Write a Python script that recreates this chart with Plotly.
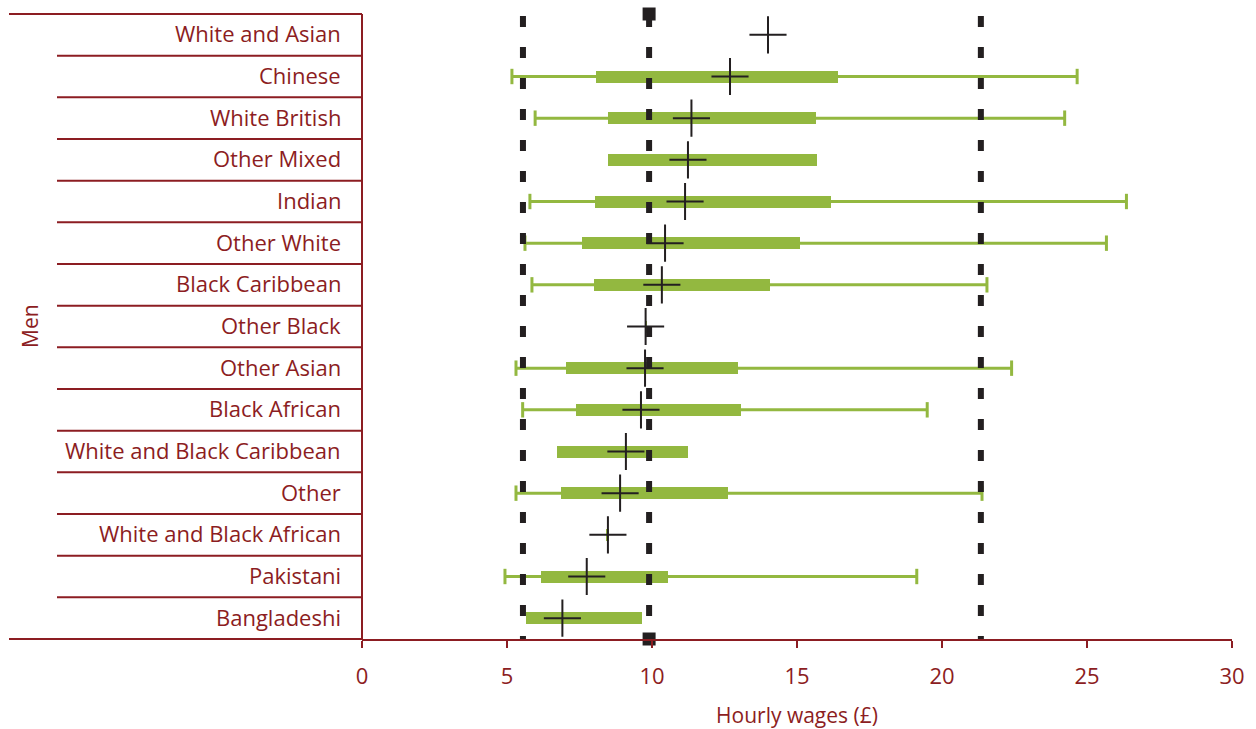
import plotly.graph_objects as go

# ---------------- data (top row first) ----------------
categories = ["White and Asian", "Chinese", "White British", "Other Mixed", "Indian",
              "Other White", "Black Caribbean", "Other Black", "Other Asian",
              "Black African", "White and Black Caribbean", "Other",
              "White and Black African", "Pakistani", "Bangladeshi"]
mean_wage = [14.0, 12.69, 11.36, 11.24, 11.14, 10.45, 10.34, 9.78, 9.76, 9.62,
             9.10, 8.90, 8.48, 7.75, 6.91]
q1_wage = [None, 8.07, 8.48, 8.48, 8.03, 7.59, 8.00, 9.75, 7.05, 7.37,
           6.71, 6.86, 8.42, 6.17, 5.66]
q3_wage = [None, 16.41, 15.64, 15.68, 16.18, 15.11, 14.07, 9.83, 12.95, 13.06,
           11.25, 12.61, 8.52, 10.54, 9.66]
low_wage = [None, 5.17, 5.97, None, 5.79, 5.62, 5.86, None, 5.31, 5.54,
            None, 5.31, None, 4.93, None]
high_wage = [None, 24.66, 24.23, None, 26.36, 25.67, 21.55, None, 22.40, 19.49,
             None, 21.38, None, 19.13, None]
reference_lines = [5.55, 9.90, 21.34]
overall_marker_x = [9.90]
x_ticks = [0, 5, 10, 15, 20, 25, 30]
x_title = "Hourly wages (£)"
group_label = "Men"

# ---------------- styling ----------------
W, H = 1256, 729
RED = "#8c1d22"
GREEN = "#93b840"
DARK = "#231f20"
FONT = "Open Sans"
n = len(categories)
ypos = [n - 1 - i for i in range(n)]
top_px, bot_px = 14, 639
plot_left, plot_right = 362, 1232


def px(p):
    return p / W


fig = go.Figure()

# whiskers
wx, wy, cx, cy = [], [], [], []
for y, lo, hi in zip(ypos, low_wage, high_wage):
    if lo is None:
        continue
    wx += [lo, hi, None]
    wy += [y, y, None]
    cx += [lo, hi]
    cy += [y, y]
fig.add_trace(go.Scatter(x=wx, y=wy, mode="lines", line=dict(color=GREEN, width=3),
                         hoverinfo="skip", showlegend=False))
fig.add_trace(go.Scatter(x=cx, y=cy, mode="markers",
                         marker=dict(symbol="line-ns", size=11,
                                     line=dict(color=GREEN, width=3)),
                         hoverinfo="skip", showlegend=False))

# boxes (interquartile)
bx, bb, by = [], [], []
for y, a, b in zip(ypos, q1_wage, q3_wage):
    if a is None:
        continue
    bx.append(b - a)
    bb.append(a)
    by.append(y)
fig.add_trace(go.Bar(x=bx, base=bb, y=by, orientation="h", width=12 / 41.667,
                     marker=dict(color=GREEN, line=dict(width=0)),
                     hoverinfo="skip", showlegend=False))

# means
fig.add_trace(go.Scatter(x=mean_wage, y=ypos, mode="markers",
                         marker=dict(symbol="cross-thin", size=26.5,
                                     line=dict(color=DARK, width=2)),
                         cliponaxis=False, hoverinfo="skip", showlegend=False))

# overall marker squares
fig.add_trace(go.Scatter(x=overall_marker_x * 2, y=[n - 0.5, -0.5], mode="markers",
                         marker=dict(symbol="square", size=13, color=DARK),
                         cliponaxis=False, hoverinfo="skip", showlegend=False))

shapes = []
for xv in reference_lines:
    shapes.append(dict(type="line", xref="x", yref="paper", x0=xv, x1=xv,
                       y0=1 - 2 / 625, y1=0, layer="above",
                       line=dict(color=DARK, width=6, dash="11px,20px")))
# table lines
shapes.append(dict(type="line", xref="paper", yref="paper", x0=px(9), x1=px(plot_left),
                   y0=1, y1=1, line=dict(color=RED, width=2)))
shapes.append(dict(type="line", xref="paper", yref="paper", x0=px(9), x1=px(plot_left),
                   y0=0, y1=0, line=dict(color=RED, width=2)))
shapes.append(dict(type="line", xref="paper", yref="paper", x0=px(plot_left),
                   x1=px(plot_left), y0=0, y1=1, line=dict(color=RED, width=2)))
for k in range(n - 1):
    shapes.append(dict(type="line", xref="paper", yref="y", x0=px(57), x1=px(plot_left),
                       y0=k + 0.5, y1=k + 0.5, line=dict(color=RED, width=2)))

annotations = []
for y, c in zip(ypos, categories):
    annotations.append(dict(x=px(343), y=y, xref="paper", yref="y", text=c,
                            showarrow=False, xanchor="right", yanchor="middle",
                            yshift=1.5,
                            font=dict(family=FONT, size=22, color=RED)))
annotations.append(dict(x=px(30), y=1 - (326 - top_px) / 625, xref="paper", yref="paper",
                        text=group_label, textangle=-90, showarrow=False,
                        xanchor="center", yanchor="middle",
                        font=dict(family=FONT, size=21, color=RED)))

fig.update_layout(
    width=W, height=H,
    margin=dict(l=0, r=0, t=top_px, b=H - bot_px, autoexpand=False),
    paper_bgcolor="white", plot_bgcolor="white",
    font=dict(family=FONT, color=RED),
    bargap=0,
    xaxis=dict(range=[0, 30], domain=[px(plot_left), px(plot_right)],
               tickvals=x_ticks, ticks="outside", ticklen=7, tickwidth=2,
               tickcolor=RED, showline=True, linecolor=RED, linewidth=2,
               showgrid=False, zeroline=False, ticklabelstandoff=10,
               automargin=False, ticklabeloverflow="allow",
               tickfont=dict(family=FONT, size=22, color=RED),
               title=dict(text=x_title, font=dict(family=FONT, size=21, color=RED),
                          standoff=20)),
    yaxis=dict(range=[-0.5, n - 0.5], visible=False, fixedrange=True,
               automargin=False),
    shapes=shapes,
    annotations=annotations,
)

fig.write_html("out.html", config={"displayModeBar": False},
               post_script="document.body.style.margin='0';document.body.style.overflow='hidden';")
